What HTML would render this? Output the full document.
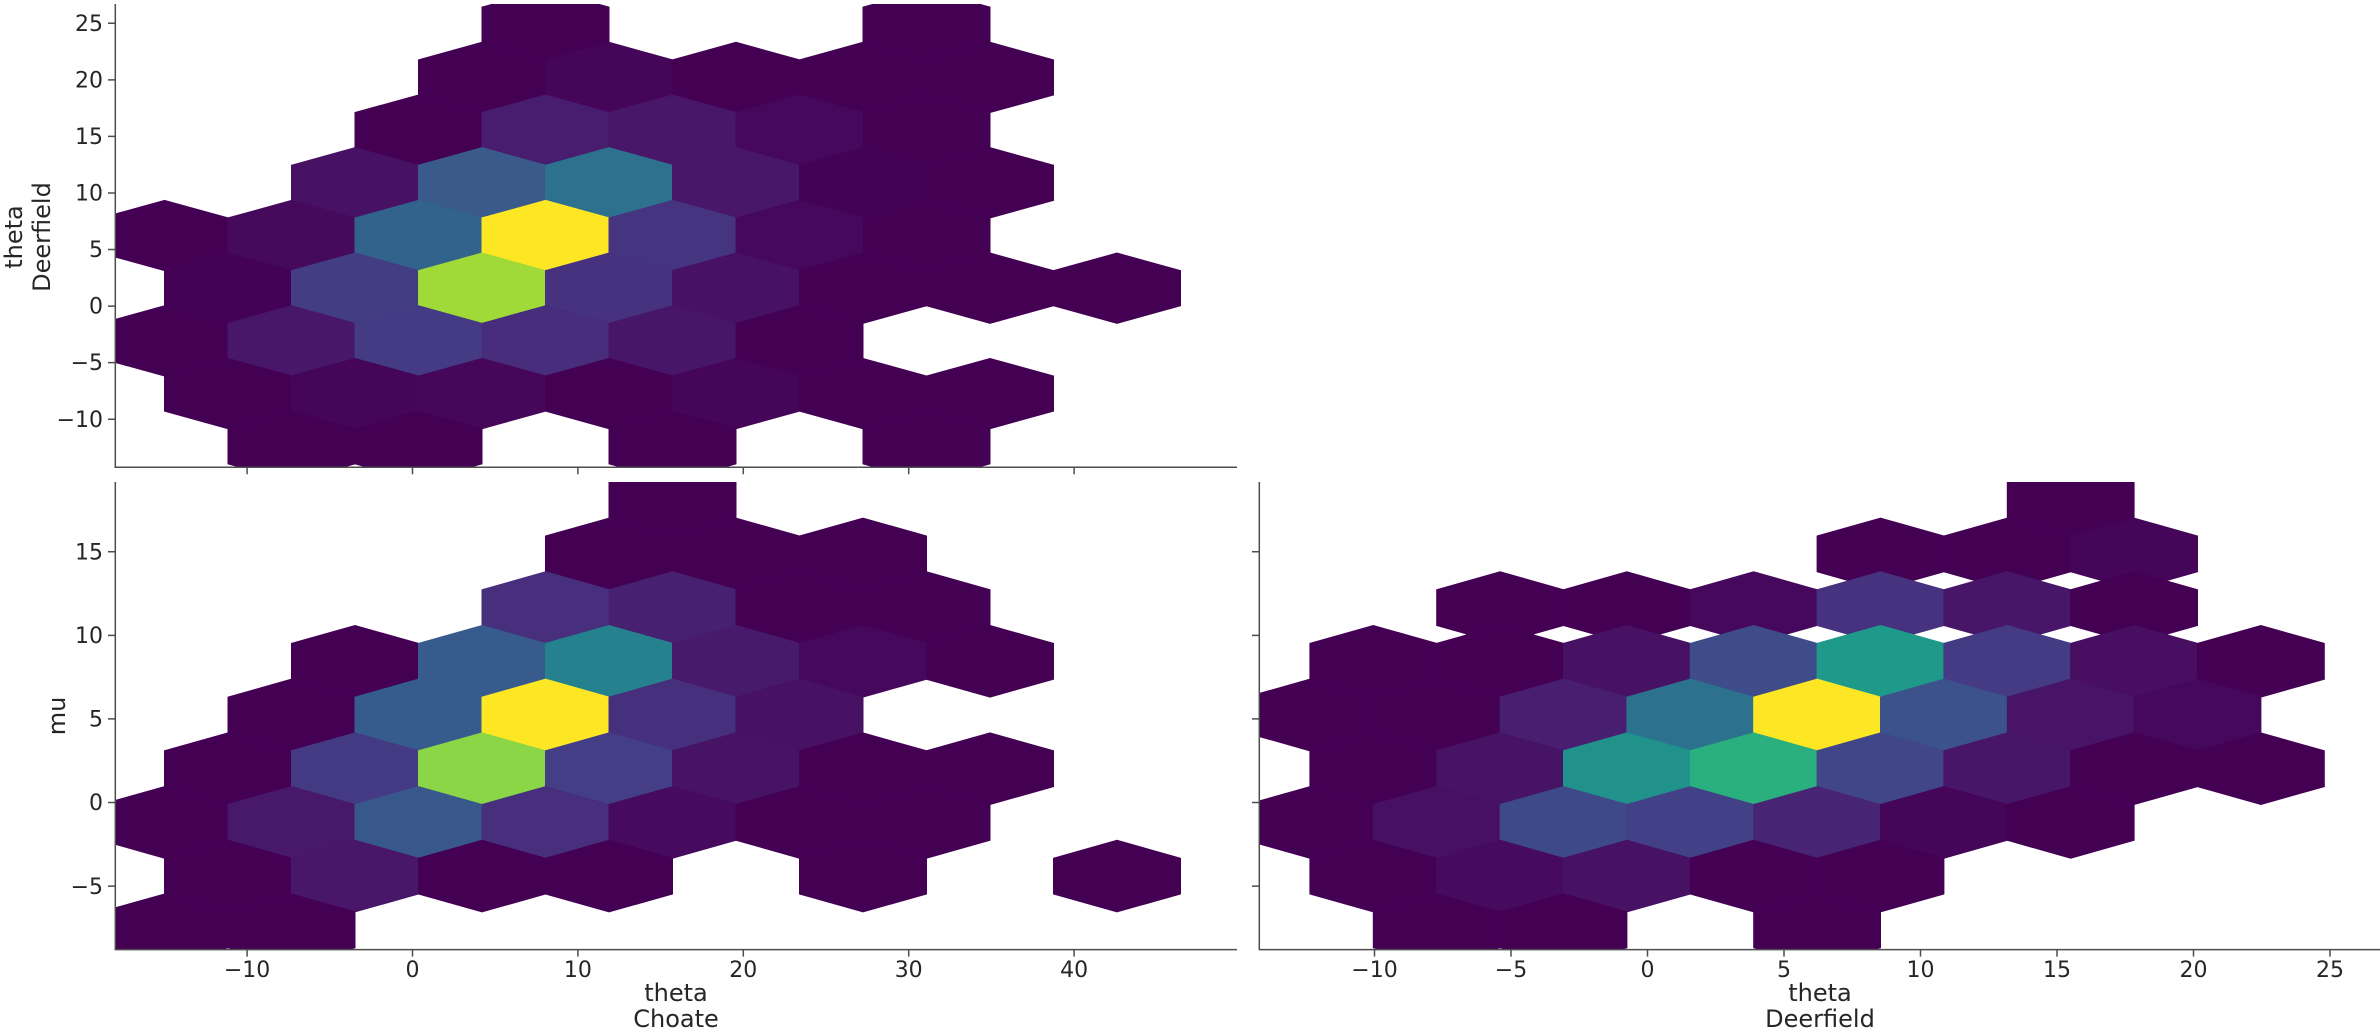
<!DOCTYPE html>
<html><head><meta charset="utf-8"><style>
html,body{margin:0;padding:0;background:#fff;}
svg{display:block;}
text{font-family:"DejaVu Sans","Liberation Sans",sans-serif;fill:#262626;}
.t{font-size:22px;}
.l{font-size:24px;}
</style></head><body>
<svg width="2380" height="1035" viewBox="0 0 2380 1035" xmlns="http://www.w3.org/2000/svg">
<defs>
<path id="h" d="M1,-0.3333 L1,0.3333 L0,0.6667 L-1,0.3333 L-1,-0.3333 L0,-0.6667Z" stroke-width="1" vector-effect="non-scaling-stroke"/>
<clipPath id="c1"><rect x="115" y="4" width="1122" height="463"/></clipPath>
<clipPath id="c2"><rect x="115" y="482" width="1122" height="468"/></clipPath>
<clipPath id="c3"><rect x="1259" y="482" width="1121" height="468"/></clipPath>
</defs>

<!-- TOP PANEL -->
<g clip-path="url(#c1)"><g transform="translate(545.5,235.5) scale(63.5,52.7)">
<use href="#h" x="0" y="-4" fill="#440154" stroke="#440154"/>
<use href="#h" x="6" y="-4" fill="#440154" stroke="#440154"/>
<use href="#h" x="-1" y="-3" fill="#440154" stroke="#440154"/>
<use href="#h" x="1" y="-3" fill="#450559" stroke="#450559"/>
<use href="#h" x="3" y="-3" fill="#440154" stroke="#440154"/>
<use href="#h" x="5" y="-3" fill="#440154" stroke="#440154"/>
<use href="#h" x="7" y="-3" fill="#440154" stroke="#440154"/>
<use href="#h" x="-2" y="-2" fill="#440154" stroke="#440154"/>
<use href="#h" x="0" y="-2" fill="#481c6e" stroke="#481c6e"/>
<use href="#h" x="2" y="-2" fill="#481769" stroke="#481769"/>
<use href="#h" x="4" y="-2" fill="#46085c" stroke="#46085c"/>
<use href="#h" x="6" y="-2" fill="#440154" stroke="#440154"/>
<use href="#h" x="-3" y="-1" fill="#471164" stroke="#471164"/>
<use href="#h" x="-1" y="-1" fill="#3b5a8c" stroke="#3b5a8c"/>
<use href="#h" x="1" y="-1" fill="#2d718e" stroke="#2d718e"/>
<use href="#h" x="3" y="-1" fill="#481769" stroke="#481769"/>
<use href="#h" x="5" y="-1" fill="#440256" stroke="#440256"/>
<use href="#h" x="7" y="-1" fill="#440154" stroke="#440154"/>
<use href="#h" x="-6" y="0" fill="#440154" stroke="#440154"/>
<use href="#h" x="-4" y="0" fill="#450a5c" stroke="#450a5c"/>
<use href="#h" x="-2" y="0" fill="#31638c" stroke="#31638c"/>
<use href="#h" x="0" y="0" fill="#fde725" stroke="#fde725"/>
<use href="#h" x="2" y="0" fill="#453581" stroke="#453581"/>
<use href="#h" x="4" y="0" fill="#46085c" stroke="#46085c"/>
<use href="#h" x="6" y="0" fill="#440154" stroke="#440154"/>
<use href="#h" x="-5" y="1" fill="#440256" stroke="#440256"/>
<use href="#h" x="-3" y="1" fill="#433d84" stroke="#433d84"/>
<use href="#h" x="-1" y="1" fill="#a0da39" stroke="#a0da39"/>
<use href="#h" x="1" y="1" fill="#46327e" stroke="#46327e"/>
<use href="#h" x="3" y="1" fill="#471164" stroke="#471164"/>
<use href="#h" x="5" y="1" fill="#440154" stroke="#440154"/>
<use href="#h" x="7" y="1" fill="#440154" stroke="#440154"/>
<use href="#h" x="9" y="1" fill="#440154" stroke="#440154"/>
<use href="#h" x="-6" y="2" fill="#440154" stroke="#440154"/>
<use href="#h" x="-4" y="2" fill="#481769" stroke="#481769"/>
<use href="#h" x="-2" y="2" fill="#443b84" stroke="#443b84"/>
<use href="#h" x="0" y="2" fill="#472d7b" stroke="#472d7b"/>
<use href="#h" x="2" y="2" fill="#481668" stroke="#481668"/>
<use href="#h" x="4" y="2" fill="#440154" stroke="#440154"/>
<use href="#h" x="-5" y="3" fill="#440154" stroke="#440154"/>
<use href="#h" x="-3" y="3" fill="#450559" stroke="#450559"/>
<use href="#h" x="-1" y="3" fill="#46075a" stroke="#46075a"/>
<use href="#h" x="1" y="3" fill="#440154" stroke="#440154"/>
<use href="#h" x="3" y="3" fill="#450559" stroke="#450559"/>
<use href="#h" x="5" y="3" fill="#440154" stroke="#440154"/>
<use href="#h" x="7" y="3" fill="#440154" stroke="#440154"/>
<use href="#h" x="-4" y="4" fill="#440154" stroke="#440154"/>
<use href="#h" x="-2" y="4" fill="#440154" stroke="#440154"/>
<use href="#h" x="2" y="4" fill="#440154" stroke="#440154"/>
<use href="#h" x="6" y="4" fill="#440154" stroke="#440154"/>
</g></g>

<!-- BOTTOM LEFT -->
<g clip-path="url(#c2)"><g transform="translate(545.5,715) scale(63.5,53.7)">
<use href="#h" x="2" y="-4" fill="#440154" stroke="#440154"/>
<use href="#h" x="1" y="-3" fill="#440154" stroke="#440154"/>
<use href="#h" x="3" y="-3" fill="#440154" stroke="#440154"/>
<use href="#h" x="5" y="-3" fill="#440154" stroke="#440154"/>
<use href="#h" x="0" y="-2" fill="#472f7d" stroke="#472f7d"/>
<use href="#h" x="2" y="-2" fill="#482071" stroke="#482071"/>
<use href="#h" x="4" y="-2" fill="#440154" stroke="#440154"/>
<use href="#h" x="6" y="-2" fill="#440154" stroke="#440154"/>
<use href="#h" x="-3" y="-1" fill="#440154" stroke="#440154"/>
<use href="#h" x="-1" y="-1" fill="#375b8d" stroke="#375b8d"/>
<use href="#h" x="1" y="-1" fill="#26818e" stroke="#26818e"/>
<use href="#h" x="3" y="-1" fill="#481a6c" stroke="#481a6c"/>
<use href="#h" x="5" y="-1" fill="#46085c" stroke="#46085c"/>
<use href="#h" x="7" y="-1" fill="#440154" stroke="#440154"/>
<use href="#h" x="-4" y="0" fill="#440154" stroke="#440154"/>
<use href="#h" x="-2" y="0" fill="#365c8d" stroke="#365c8d"/>
<use href="#h" x="0" y="0" fill="#fde725" stroke="#fde725"/>
<use href="#h" x="2" y="0" fill="#46307e" stroke="#46307e"/>
<use href="#h" x="4" y="0" fill="#471164" stroke="#471164"/>
<use href="#h" x="-5" y="1" fill="#440154" stroke="#440154"/>
<use href="#h" x="-3" y="1" fill="#443a83" stroke="#443a83"/>
<use href="#h" x="-1" y="1" fill="#8bd646" stroke="#8bd646"/>
<use href="#h" x="1" y="1" fill="#433e85" stroke="#433e85"/>
<use href="#h" x="3" y="1" fill="#471365" stroke="#471365"/>
<use href="#h" x="5" y="1" fill="#440154" stroke="#440154"/>
<use href="#h" x="7" y="1" fill="#440154" stroke="#440154"/>
<use href="#h" x="-6" y="2" fill="#440154" stroke="#440154"/>
<use href="#h" x="-4" y="2" fill="#48186a" stroke="#48186a"/>
<use href="#h" x="-2" y="2" fill="#38588c" stroke="#38588c"/>
<use href="#h" x="0" y="2" fill="#472f7d" stroke="#472f7d"/>
<use href="#h" x="2" y="2" fill="#460b5e" stroke="#460b5e"/>
<use href="#h" x="4" y="2" fill="#440154" stroke="#440154"/>
<use href="#h" x="6" y="2" fill="#440154" stroke="#440154"/>
<use href="#h" x="-5" y="3" fill="#440154" stroke="#440154"/>
<use href="#h" x="-3" y="3" fill="#481769" stroke="#481769"/>
<use href="#h" x="-1" y="3" fill="#440154" stroke="#440154"/>
<use href="#h" x="1" y="3" fill="#440154" stroke="#440154"/>
<use href="#h" x="5" y="3" fill="#440154" stroke="#440154"/>
<use href="#h" x="9" y="3" fill="#440154" stroke="#440154"/>
<use href="#h" x="-6" y="4" fill="#440154" stroke="#440154"/>
<use href="#h" x="-4" y="4" fill="#440154" stroke="#440154"/>
</g></g>

<!-- BOTTOM RIGHT -->
<g clip-path="url(#c3)"><g transform="translate(1817.1,715) scale(63.4,53.7)">
<use href="#h" x="4" y="-4" fill="#440154" stroke="#440154"/>
<use href="#h" x="1" y="-3" fill="#440154" stroke="#440154"/>
<use href="#h" x="3" y="-3" fill="#440154" stroke="#440154"/>
<use href="#h" x="5" y="-3" fill="#450559" stroke="#450559"/>
<use href="#h" x="-5" y="-2" fill="#440154" stroke="#440154"/>
<use href="#h" x="-3" y="-2" fill="#440154" stroke="#440154"/>
<use href="#h" x="-1" y="-2" fill="#46085c" stroke="#46085c"/>
<use href="#h" x="1" y="-2" fill="#46327e" stroke="#46327e"/>
<use href="#h" x="3" y="-2" fill="#481668" stroke="#481668"/>
<use href="#h" x="5" y="-2" fill="#440154" stroke="#440154"/>
<use href="#h" x="-7" y="-1" fill="#440154" stroke="#440154"/>
<use href="#h" x="-5" y="-1" fill="#440154" stroke="#440154"/>
<use href="#h" x="-3" y="-1" fill="#471164" stroke="#471164"/>
<use href="#h" x="-1" y="-1" fill="#3e4c8a" stroke="#3e4c8a"/>
<use href="#h" x="1" y="-1" fill="#1f9a8a" stroke="#1f9a8a"/>
<use href="#h" x="3" y="-1" fill="#443b84" stroke="#443b84"/>
<use href="#h" x="5" y="-1" fill="#470e61" stroke="#470e61"/>
<use href="#h" x="7" y="-1" fill="#440154" stroke="#440154"/>
<use href="#h" x="-8" y="0" fill="#440154" stroke="#440154"/>
<use href="#h" x="-6" y="0" fill="#440154" stroke="#440154"/>
<use href="#h" x="-4" y="0" fill="#481f70" stroke="#481f70"/>
<use href="#h" x="-2" y="0" fill="#2c728e" stroke="#2c728e"/>
<use href="#h" x="0" y="0" fill="#fde725" stroke="#fde725"/>
<use href="#h" x="2" y="0" fill="#3b528b" stroke="#3b528b"/>
<use href="#h" x="4" y="0" fill="#481467" stroke="#481467"/>
<use href="#h" x="6" y="0" fill="#46085c" stroke="#46085c"/>
<use href="#h" x="-7" y="1" fill="#440154" stroke="#440154"/>
<use href="#h" x="-5" y="1" fill="#471365" stroke="#471365"/>
<use href="#h" x="-3" y="1" fill="#21918c" stroke="#21918c"/>
<use href="#h" x="-1" y="1" fill="#2ab07f" stroke="#2ab07f"/>
<use href="#h" x="1" y="1" fill="#404688" stroke="#404688"/>
<use href="#h" x="3" y="1" fill="#481668" stroke="#481668"/>
<use href="#h" x="5" y="1" fill="#440154" stroke="#440154"/>
<use href="#h" x="7" y="1" fill="#440154" stroke="#440154"/>
<use href="#h" x="-8" y="2" fill="#440154" stroke="#440154"/>
<use href="#h" x="-6" y="2" fill="#471063" stroke="#471063"/>
<use href="#h" x="-4" y="2" fill="#3e4989" stroke="#3e4989"/>
<use href="#h" x="-2" y="2" fill="#424086" stroke="#424086"/>
<use href="#h" x="0" y="2" fill="#482475" stroke="#482475"/>
<use href="#h" x="2" y="2" fill="#450559" stroke="#450559"/>
<use href="#h" x="4" y="2" fill="#440154" stroke="#440154"/>
<use href="#h" x="-7" y="3" fill="#440154" stroke="#440154"/>
<use href="#h" x="-5" y="3" fill="#460b5e" stroke="#460b5e"/>
<use href="#h" x="-3" y="3" fill="#471164" stroke="#471164"/>
<use href="#h" x="-1" y="3" fill="#440154" stroke="#440154"/>
<use href="#h" x="1" y="3" fill="#440154" stroke="#440154"/>
<use href="#h" x="-6" y="4" fill="#440154" stroke="#440154"/>
<use href="#h" x="-4" y="4" fill="#440154" stroke="#440154"/>
<use href="#h" x="0" y="4" fill="#440154" stroke="#440154"/>
</g></g>

<!-- SPINES & TICKS -->
<g stroke="#4d4d4d" stroke-width="1.5" fill="none">
<path d="M115.3,4 V467.3 H1237"/>
<path d="M115.3,482 V949.6 H1237"/>
<path d="M1259.3,482 V949.6 H2380"/>
<path d="M115,23.3h-7M115,79.9h-7M115,136.4h-7M115,193h-7M115,249.5h-7M115,306.1h-7M115,362.6h-7M115,419.2h-7"/>
<path d="M247.1,467.3v7M412.5,467.3v7M577.9,467.3v7M743.3,467.3v7M908.7,467.3v7M1074.1,467.3v7"/>
<path d="M115,551.8h-7M115,635.4h-7M115,718.9h-7M115,802.5h-7M115,886.1h-7"/>
<path d="M247.1,949.6v7M412.5,949.6v7M577.9,949.6v7M743.3,949.6v7M908.7,949.6v7M1074.1,949.6v7"/>
<path d="M1259,551.8h-7M1259,635.4h-7M1259,718.9h-7M1259,802.5h-7M1259,886.1h-7"/>
<path d="M1374.5,949.6v7M1511,949.6v7M1647.5,949.6v7M1784,949.6v7M1920.5,949.6v7M2057,949.6v7M2193.5,949.6v7M2330,949.6v7"/>
</g>

<g class="t" text-anchor="end">
<text x="103" y="31">25</text><text x="103" y="87.5">20</text><text x="103" y="144">15</text><text x="103" y="200.5">10</text>
<text x="103" y="257">5</text><text x="103" y="313.5">0</text><text x="103" y="370">−5</text><text x="103" y="427">−10</text>
<text x="103" y="559.5">15</text><text x="103" y="643">10</text><text x="103" y="726.5">5</text><text x="103" y="810">0</text><text x="103" y="894">−5</text>
</g>
<g class="t" text-anchor="middle">
<text x="247.1" y="977">−10</text><text x="412.5" y="977">0</text><text x="577.9" y="977">10</text><text x="743.3" y="977">20</text><text x="908.7" y="977">30</text><text x="1074.1" y="977">40</text>
<text x="1374.5" y="977">−10</text><text x="1511" y="977">−5</text><text x="1647.5" y="977">0</text><text x="1784" y="977">5</text><text x="1920.5" y="977">10</text><text x="2057" y="977">15</text><text x="2193.5" y="977">20</text><text x="2330" y="977">25</text>
</g>
<g class="l" text-anchor="middle">
<text x="676" y="1001">theta</text><text x="676" y="1027">Choate</text>
<text x="1820" y="1001">theta</text><text x="1820" y="1027">Deerfield</text>
<text transform="translate(22,237) rotate(-90)">theta</text>
<text transform="translate(50,237) rotate(-90)">Deerfield</text>
<text transform="translate(65,716) rotate(-90)">mu</text>
</g>
</svg>
</body></html>
